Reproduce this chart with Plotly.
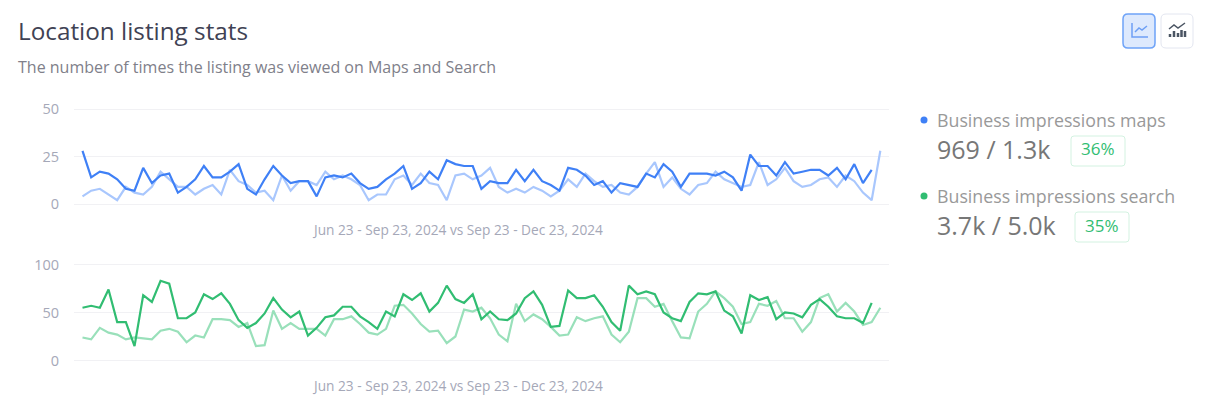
import plotly.graph_objects as go

# window is 1209x408, body keeps its default 8px margin
W = 1193
H = 392
FONT = "Open Sans"

title_text = "Location listing stats"
subtitle_text = "The number of times the listing was viewed on Maps and Search"
range_text = "Jun 23 - Sep 23, 2024 vs Sep 23 - Dec 23, 2024"

maps_name = "Business impressions maps"
search_name = "Business impressions search"
maps_total = "969 / 1.3k"
search_total = "3.7k / 5.0k"
maps_delta = "36%"
search_delta = "35%"

maps_ticks = [0, 25, 50]
search_ticks = [0, 50, 100]

maps_current = [28, 14, 17, 16, 13, 8, 7, 19, 11, 15,
                16, 6, 9, 13, 20, 14, 14, 17, 21, 8,
                5, 13, 20, 15, 11, 12, 12, 4, 14, 15,
                14, 16, 11, 8, 9, 13, 16, 20, 8, 11,
                17, 13, 23, 21, 20, 20, 8, 12, 11, 11,
                18, 12, 18, 12, 10, 7, 19, 18, 15, 10,
                12, 6, 11, 10, 9, 16, 14, 21, 17, 9,
                16, 16, 16, 15, 17, 14, 7, 26, 20, 20,
                15, 22, 16, 17, 18, 18, 15, 19, 13, 21,
                11, 18]
maps_prior = [4, 7, 8, 5, 2, 9, 6, 5, 9, 17,
              13, 9, 9, 5, 8, 10, 5, 18, 12, 10,
              6, 7, 2, 15, 7, 12, 12, 10, 17, 13,
              15, 13, 10, 2, 5, 5, 13, 15, 10, 16,
              11, 10, 2, 15, 16, 13, 15, 19, 9, 6,
              8, 6, 9, 7, 4, 7, 13, 9, 16, 12,
              9, 10, 6, 5, 9, 16, 22, 9, 14, 8,
              5, 10, 11, 17, 13, 11, 9, 10, 22, 10,
              13, 19, 12, 9, 10, 13, 14, 9, 15, 12,
              6, 2, 28]
search_current = [55, 57, 55, 74, 40, 40, 15, 68, 61, 83,
                  80, 44, 44, 50, 69, 64, 70, 59, 42, 34,
                  39, 49, 65, 53, 45, 51, 26, 34, 45, 47,
                  56, 56, 46, 40, 33, 51, 46, 69, 63, 70,
                  51, 60, 78, 64, 60, 69, 43, 51, 43, 42,
                  49, 65, 72, 58, 35, 36, 73, 65, 65, 68,
                  56, 40, 31, 78, 69, 72, 69, 50, 44, 41,
                  61, 70, 69, 72, 52, 46, 28, 68, 63, 66,
                  43, 50, 49, 45, 58, 64, 56, 46, 44, 44,
                  39, 60]
search_prior = [24, 22, 34, 29, 27, 22, 24, 23, 22, 31,
                33, 30, 19, 26, 24, 43, 43, 42, 35, 39,
                15, 16, 52, 33, 39, 33, 33, 33, 26, 43,
                43, 46, 38, 29, 27, 33, 57, 58, 49, 38,
                30, 31, 18, 25, 53, 51, 55, 44, 27, 20,
                59, 41, 48, 43, 35, 26, 27, 45, 41, 44,
                46, 27, 19, 30, 65, 65, 56, 59, 41, 24,
                23, 51, 59, 72, 65, 56, 38, 40, 59, 57,
                62, 44, 44, 30, 40, 65, 69, 51, 60, 51,
                37, 40, 55]


def px(x):
    return (x - 8) / W


def py(y):
    return 1 - (y - 8) / H


def rounded(x0, y0, x1, y1, r):
    return (f"M{px(x0 + r)},{py(y0)} L{px(x1 - r)},{py(y0)} "
            f"Q{px(x1)},{py(y0)} {px(x1)},{py(y0 + r)} L{px(x1)},{py(y1 - r)} "
            f"Q{px(x1)},{py(y1)} {px(x1 - r)},{py(y1)} L{px(x0 + r)},{py(y1)} "
            f"Q{px(x0)},{py(y1)} {px(x0)},{py(y1 - r)} L{px(x0)},{py(y0 + r)} "
            f"Q{px(x0)},{py(y0)} {px(x0 + r)},{py(y0)} Z")


def polyline(points):
    return "M" + " L".join(f"{px(a)},{py(b)}" for a, b in points)


def box(x0, y0, x1, y1, r, line, fill="white", width=1):
    return dict(type="path", xref="paper", yref="paper", path=rounded(x0, y0, x1, y1, r),
                line=dict(color=line, width=width), fillcolor=fill, layer="below")


def stroke(points, color, width=1.5):
    return dict(type="path", xref="paper", yref="paper", path=polyline(points),
                line=dict(color=color, width=width))


def label(text, x, y, size, color, anchor="left", weight=None):
    # annotations carry about 2px of padding
    shift = -2 if anchor == "left" else 0
    return dict(text=text, x=px(x), y=py(y), xref="paper", yref="paper", xshift=shift,
                xanchor=anchor, yanchor="middle", showarrow=False,
                font=dict(family=FONT, size=size, color=color, weight=weight))


def dot(x, y, r, color):
    return dict(type="circle", xref="paper", yref="paper",
                x0=px(x - r), x1=px(x + r), y0=py(y + r), y1=py(y - r),
                fillcolor=color, line=dict(width=0))


fig = go.Figure()
fig.add_trace(go.Scatter(x=list(range(len(maps_prior))), y=maps_prior, mode="lines",
                         line=dict(color="#a9c7fd", width=2.2), xaxis="x", yaxis="y"))
fig.add_trace(go.Scatter(x=list(range(len(maps_current))), y=maps_current, mode="lines",
                         line=dict(color="#3f80f6", width=2.2), xaxis="x", yaxis="y"))
fig.add_trace(go.Scatter(x=list(range(len(search_prior))), y=search_prior, mode="lines",
                         line=dict(color="#99e0ba", width=2.2), xaxis="x2", yaxis="y2"))
fig.add_trace(go.Scatter(x=list(range(len(search_current))), y=search_current, mode="lines",
                         line=dict(color="#31bd72", width=2.2), xaxis="x2", yaxis="y2"))

shapes = [
    box(1123, 14, 1155, 48, 5, "#6ea3f8", "#dde9fd", 1.5),
    box(1161, 14, 1193, 48, 5, "#e3e6f0"),
    # line icon
    stroke([(1132, 23), (1132, 37), (1148, 37)], "#6d9ff5"),
    stroke([(1135, 32), (1139, 28), (1142, 30), (1147, 26)], "#6d9ff5"),
    # combo icon
    stroke([(1169, 29), (1174, 25), (1178, 28), (1185, 23)], "#4b5563"),
    stroke([(1170, 37), (1170, 34)], "#4b5563", 2.5),
    stroke([(1174, 37), (1174, 31)], "#4b5563", 2.5),
    stroke([(1178, 37), (1178, 33)], "#4b5563", 2.5),
    stroke([(1181.5, 37), (1181.5, 30)], "#4b5563", 2.5),
    stroke([(1185, 37), (1185, 31)], "#4b5563", 2.5),
    dot(924, 120, 3.5, "#3f80f6"),
    dot(924, 196, 3.5, "#31bd72"),
    box(1071, 136, 1125, 166, 3, "#d3f2e1"),
    box(1075, 212, 1129, 242, 3, "#d3f2e1"),
]

annotations = [
    label(title_text, 18, 30, 24.3, "#3f4254", weight=500),
    label(subtitle_text, 18, 67, 16, "#80808a"),
    label(range_text, 457, 229, 13.7, "#a5a8b8", "center"),
    label(range_text, 457, 385, 13.7, "#a5a8b8", "center"),
    label(maps_name, 937, 120, 17.8, "#999999"),
    label(search_name, 937, 196, 17.8, "#999999"),
    label(maps_total, 937, 149, 25, "#777777"),
    label(search_total, 937, 225, 25, "#777777"),
    label(maps_delta, 1098, 149, 17, "#31bd72", "center", 500),
    label(search_delta, 1102, 225, 17, "#31bd72", "center", 500),
]

x_common = dict(range=[-0.98, 93], visible=False, fixedrange=True)
y_common = dict(showgrid=True, gridcolor="#f1f1f4", gridwidth=1, zeroline=False, showline=False, automargin=False,
                ticks="", ticklabelstandoff=14, tickfont=dict(family=FONT, size=14.5, color="#a5a8b8"))

# ranges run a little past the end ticks so their gridlines are still drawn
fig.update_layout(
    width=W, height=H, showlegend=False,
    margin=dict(l=0, r=0, t=0, b=0),
    paper_bgcolor="white", plot_bgcolor="white",
    shapes=shapes, annotations=annotations,
    xaxis=dict(domain=[px(74), px(889)], anchor="y", automargin=False, **x_common),
    xaxis2=dict(domain=[px(74), px(889)], anchor="y2", automargin=False, **x_common),
    yaxis=dict(domain=[py(205.9), py(107.1)], range=[-1, 51], tickvals=maps_ticks, anchor="x", **y_common),
    yaxis2=dict(domain=[py(362.4), py(262.6)], range=[-2, 102], tickvals=search_ticks, anchor="x2", **y_common),
)

fig.write_html("out.html")
